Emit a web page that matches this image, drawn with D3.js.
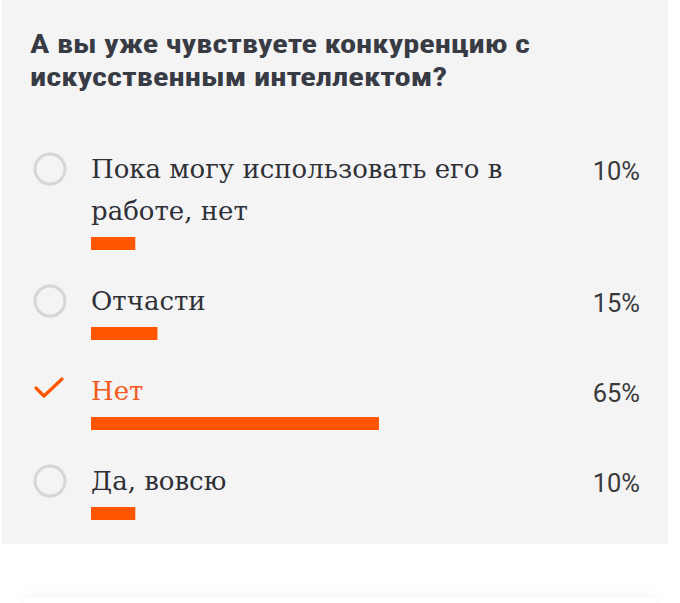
<!DOCTYPE html>
<html><head><meta charset="utf-8">
<script src="https://cdn.jsdelivr.net/npm/d3@7"></script>
<style>
html,body{margin:0;padding:0;background:#fff;}
svg{display:block;}
</style></head>
<body>
<svg id="c" width="680" height="603"></svg>
<script>
const title = ["А вы уже чувствуете конкуренцию с", "искусственным интеллектом?"];
const options = ["Пока могу использовать его в работе, нет", "Отчасти", "Нет", "Да, вовсю"];
const values = [10, 15, 65, 10];
const selected = [false, false, true, false];

const W = 680, H = 603;
const svg = d3.select("#c");
const orange = "#ff5500";

// background shadow card at bottom
const defs = svg.append("defs");
const f = defs.append("filter").attr("id","sh").attr("x","-10%").attr("y","-200%").attr("width","120%").attr("height","500%");
f.append("feGaussianBlur").attr("in","SourceAlpha").attr("stdDeviation",10);
f.append("feComponentTransfer").append("feFuncA").attr("type","linear").attr("slope",0.06);
const m = f.append("feMerge"); m.append("feMergeNode"); m.append("feMergeNode").attr("in","SourceGraphic");
svg.append("rect").attr("x",25).attr("y",598).attr("width",630).attr("height",40).attr("fill","#fff").attr("filter","url(#sh)");

// panel
svg.append("rect").attr("x",2).attr("y",0).attr("width",666).attr("height",544).attr("fill","#f4f4f5");

// title
const tg = svg.append("g");
const titleWidths = [500, 417];
title.forEach((t,i)=>{
  const el = tg.append("text").attr("x",30).attr("y",53 + i*33)
    .attr("font-family","'Roboto Condensed','Liberation Sans Narrow',Roboto,sans-serif")
    .attr("font-weight",700).attr("font-size",25).attr("fill","#383b44").text(t);
  const w = el.node().getComputedTextLength();
  if (Math.abs(w - titleWidths[i]) > 3) el.attr("textLength", titleWidths[i]).attr("lengthAdjust","spacingAndGlyphs");
});

const x = d3.scaleLinear().domain([0,100]).range([0,443]);
const labelFont = "'DejaVu Serif','Liberation Serif',serif";
const labelSize = 26;

// measure helper for wrapping
const meas = svg.append("text").attr("font-family",labelFont).attr("font-size",labelSize).attr("visibility","hidden");
function wrap(s, maxW){
  const words = s.split(" "); const lines=[]; let cur="";
  words.forEach(w=>{
    const t = cur ? cur+" "+w : w;
    meas.text(t);
    if (meas.node().getComputedTextLength() > maxW && cur){ lines.push(cur); cur=w; } else cur=t;
  });
  if (cur) lines.push(cur);
  return lines;
}

let base = 178;
const lineH = 42, barOff = 17, barH = 13, gap = 73;
options.forEach((opt,i)=>{
  const g = svg.append("g");
  const lines = wrap(opt, 460);
  const col = selected[i] ? "#f25a1e" : "#2f3036";
  lines.forEach((ln,j)=>{
    g.append("text").attr("x",91).attr("y",base + j*lineH)
      .attr("font-family",labelFont).attr("font-size",labelSize).attr("fill",col).text(ln);
  });
  g.append("text").attr("x",640).attr("y",base+2).attr("text-anchor","end")
    .attr("font-family","Roboto,sans-serif").attr("font-size",25.5).attr("fill","#3a3a3a").text(values[i]+"%");
  const cy = base - 9;
  if (selected[i]){
    g.append("path").attr("d",`M36,${cy-3} L44,${cy+5} L62,${cy-12}`).attr("fill","none")
      .attr("stroke",orange).attr("stroke-width",3.2).attr("stroke-linecap","round").attr("stroke-linejoin","round");
  } else {
    g.append("circle").attr("cx",50).attr("cy",cy).attr("r",15).attr("fill","none")
      .attr("stroke","#d6d6d6").attr("stroke-width",3);
  }
  const last = base + (lines.length-1)*lineH;
  const by = last + barOff;
  g.append("rect").attr("x",91).attr("y",by).attr("width",x(values[i])).attr("height",barH).attr("fill",orange);
  base = by + gap;
});
meas.remove();
</script>
</body></html>
